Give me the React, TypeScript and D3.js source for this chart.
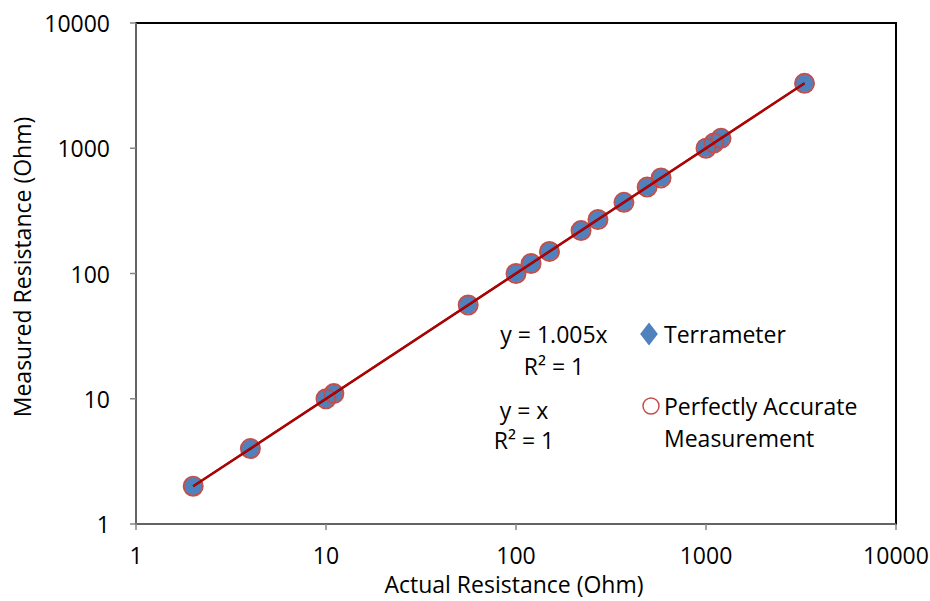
import React from "react";
import * as d3 from "d3";

const actual = [2, 4, 10, 11, 56, 100, 120, 150, 220, 270, 370, 490, 580, 1000, 1100, 1200, 3300];
const measured = [2.0, 4.0, 10.05, 11.05, 56.3, 100.5, 120.6, 150.8, 221, 271.4, 372, 492, 583, 1005, 1105, 1206, 3316];
const ticks = [1, 10, 100, 1000, 10000];
const tickLabels = ["1", "10", "100", "1000", "10000"];
const xTitle = "Actual Resistance (Ohm)";
const yTitle = "Measured Resistance (Ohm)";
const seriesNames = ["Terrameter", "Perfectly Accurate", "Measurement"];
const eq1 = ["y = 1.005x", "R² = 1"];
const eq2 = ["y = x", "R² = 1"];
const slope1 = 1.005;
const slope2 = 1;

const W = 930, H = 601;
const L = 136, R = 896, T = 23, B = 524;
const FONT = "'Open Sans', sans-serif";
const FS = 23;

export default function App() {
  const x = d3.scaleLog().domain([1, 10000]).range([L, R]);
  const y = d3.scaleLog().domain([1, 10000]).range([B, T]);
  const xmin = d3.min(actual)!, xmax = d3.max(actual)!;
  const line = d3.line<number[]>().x(d => x(d[0])).y(d => y(d[1]));
  const blue = "#4F81BD";
  const red = "#C0504D";
  return (
    <svg width={W} height={H} style={{ position: "absolute", left: 0, top: 0, background: "#fff" }} fontFamily={FONT}>
      <rect x={0} y={0} width={W} height={H} fill="#fff" />
      <rect x={L} y={T} width={R - L} height={B - T} fill="#fff" stroke="#000" strokeWidth={2} />
      <line x1={L} x2={L} y1={T} y2={B} stroke="#868686" strokeWidth={1.5} />
      <line x1={L} x2={R} y1={B} y2={B} stroke="#868686" strokeWidth={1.5} />
      {ticks.map((t, i) => (
        <g key={"y" + i}>
          <line x1={L - 6} x2={L} y1={y(t)} y2={y(t)} stroke="#868686" strokeWidth={1.5} />
          <text x={L - 26} y={y(t)} textAnchor="end" dominantBaseline="central" fontSize={FS} fill="#000">{tickLabels[i]}</text>
        </g>
      ))}
      {ticks.map((t, i) => (
        <g key={"x" + i}>
          <line x1={x(t)} x2={x(t)} y1={B} y2={B + 6} stroke="#868686" strokeWidth={1.5} />
          <text x={x(t)} y={555} textAnchor="middle" dominantBaseline="central" fontSize={FS} fill="#000">{tickLabels[i]}</text>
        </g>
      ))}
      <text x={514} y={584} textAnchor="middle" dominantBaseline="central" fontSize={FS} fill="#000">{xTitle}</text>
      <text transform={`translate(22,${267}) rotate(-90)`} textAnchor="middle" dominantBaseline="central" fontSize={FS} fill="#000">{yTitle}</text>
      {actual.map((a, i) => (
        <circle key={"b" + i} cx={x(a)} cy={y(measured[i])} r={9} fill={blue} />
      ))}
      {actual.map((a, i) => (
        <circle key={"r" + i} cx={x(a)} cy={y(a)} r={9.5} fill="none" stroke={red} strokeWidth={2} />
      ))}
      <path d={line([[xmin, xmin * slope2], [xmax, xmax * slope2]])!} stroke="#7f0000" strokeWidth={2.5} fill="none" />
      <path d={line([[xmin, xmin * slope1], [xmax, xmax * slope1]])!} stroke="#C00000" strokeWidth={1.5} fill="none" />
      <text x={554} y={334} textAnchor="middle" dominantBaseline="central" fontSize={FS}>{eq1[0]}</text>
      <text x={554} y={366} textAnchor="middle" dominantBaseline="central" fontSize={FS}>{eq1[1]}</text>
      <text x={524} y={410} textAnchor="middle" dominantBaseline="central" fontSize={FS}>{eq2[0]}</text>
      <text x={524} y={440} textAnchor="middle" dominantBaseline="central" fontSize={FS}>{eq2[1]}</text>
      <path d={d3.symbol(d3.symbolDiamond, 150)()!} transform="translate(649,334) scale(1.35,1)" fill={blue} />
      <text x={664} y={334} dominantBaseline="central" fontSize={FS}>{seriesNames[0]}</text>
      <circle cx={651} cy={406} r={8} fill="none" stroke={red} strokeWidth={1.5} />
      <text x={664} y={406} dominantBaseline="central" fontSize={FS}>{seriesNames[1]}</text>
      <text x={664} y={438} dominantBaseline="central" fontSize={FS}>{seriesNames[2]}</text>
    </svg>
  );
}
